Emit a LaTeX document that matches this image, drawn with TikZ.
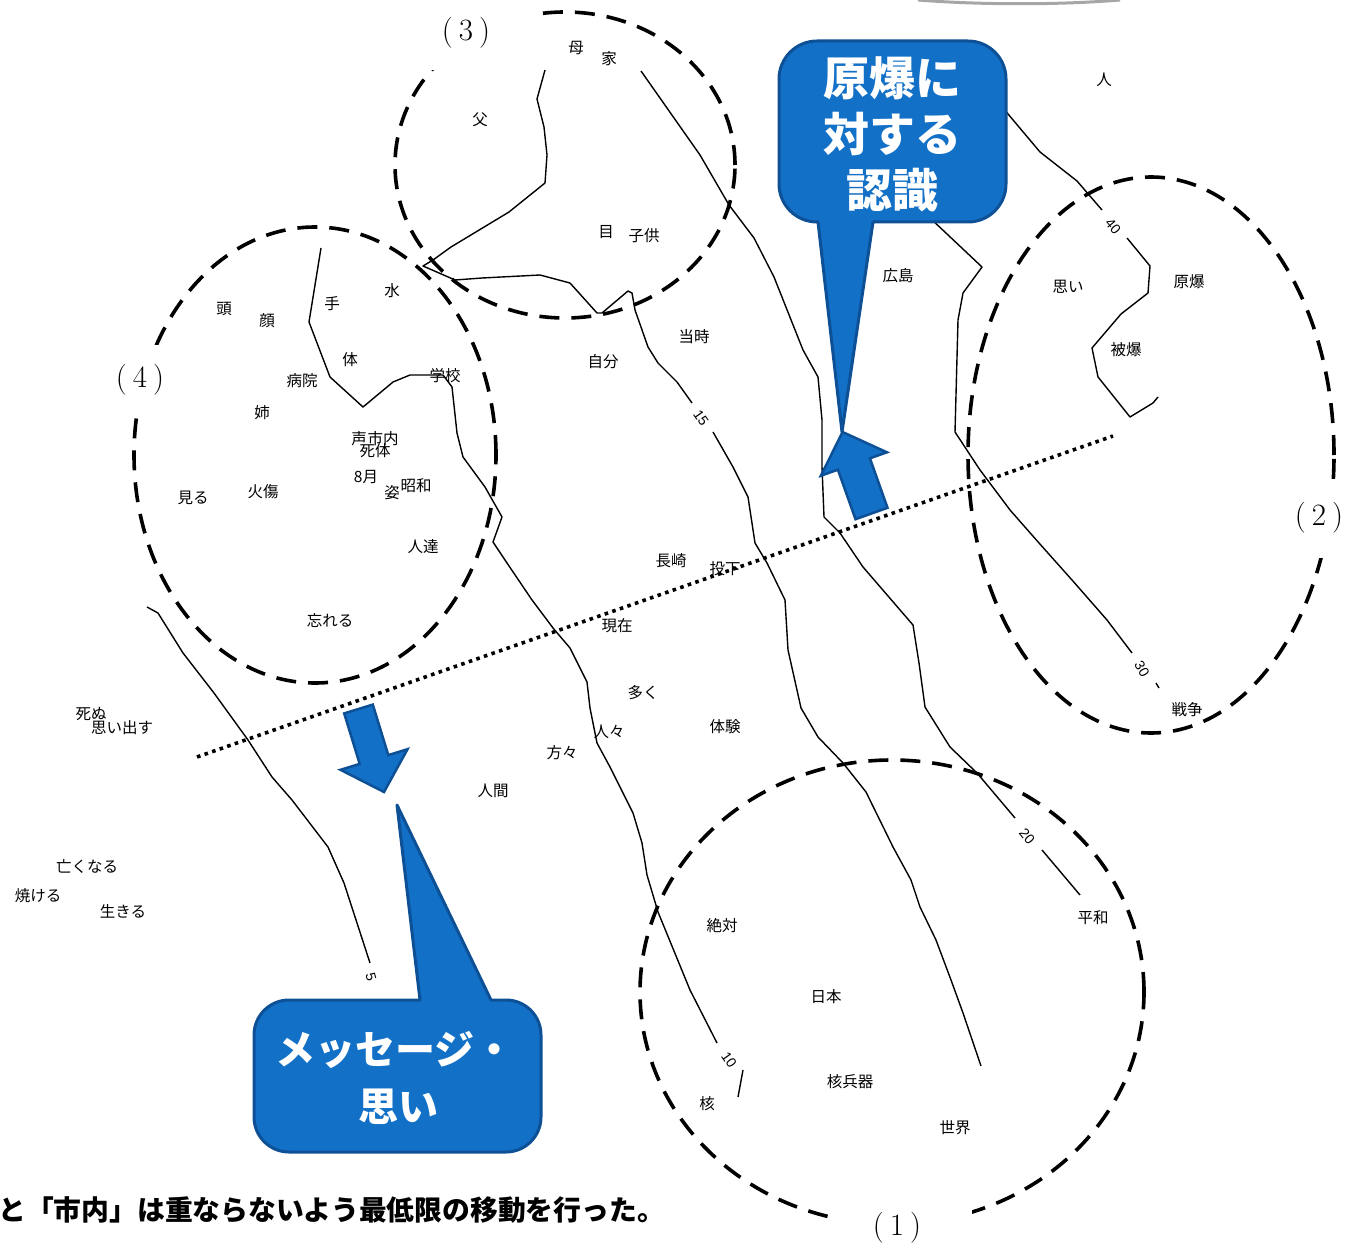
\documentclass[tikz,border=0pt]{standalone}
\usepackage{fontspec}
\newfontfamily\jp{Noto Sans CJK JP}
\newfontfamily\numf{Liberation Sans}
\definecolor{cblue}{RGB}{18,112,199}
\definecolor{cdark}{RGB}{14,80,150}
\begin{document}
\begin{tikzpicture}[x=1pt,y=-1pt,
  cline/.style={line width=1.4pt, line join=round},
  dashc/.style={line width=3.6pt, dash pattern=on 20pt off 12pt},
  dotl/.style={line width=3.6pt, dash pattern=on 3.6pt off 4.4pt},
  lbl/.style={font=\jp\fontsize{15.5}{17}\selectfont, inner sep=0pt},
  numl/.style={font=\numf\fontsize{14}{15}\selectfont, inner sep=0pt},
  plbl/.style={font=\fontsize{31}{33}\selectfont, inner sep=0pt},
  whitebox/.style={fill=white, draw=none},
  callout/.style={fill=cblue, draw=cdark, line width=3pt, line join=round},
  ctext/.style={font=\jp\bfseries\fontsize{46}{50}\selectfont, text=white, inner sep=0pt},
  ctextb/.style={font=\jp\bfseries\fontsize{40}{44}\selectfont, text=white, inner sep=0pt},
  btext/.style={font=\jp\bfseries\fontsize{27.8}{30}\selectfont, inner sep=0pt},
  barrow/.style={fill=cblue, draw=cdark, line width=2.5pt, line join=miter}]
\useasboundingbox (0,0) rectangle (1348,1246);
\fill[white] (0,0) rectangle (1348,1246);
% grey arc at top
\draw[black!35, line width=3pt] (918,0) .. controls (980,5) and (1060,5) .. (1120,0);
% contour lines
\draw[cline] (545,70) -- (537,99) -- (544,127) -- (547,155) -- (545,183) -- (509,212) -- (451,247) -- (433,260) -- (423,266) -- (455,280) -- (482,278) -- (540,275) -- (570,283) -- (597,313) -- (602,313) -- (628,291) -- (632,293) -- (635,310) -- (648,347) -- (658,363) -- (677,382) -- (692,403);
\draw[cline] (713,432) -- (733,467) -- (748,497) -- (755,543) -- (767,563) -- (785,600) -- (788,650) -- (801,708) -- (818,737) -- (843,763) -- (866,792) -- (893,847) -- (911,880) -- (920,907) -- (936,940) -- (951,980) -- (963,1013) -- (981,1066);
\node[numl, rotate=-55] (n15) at (701,418) {15};
\draw[cline] (641,71) -- (700,155) -- (729,205) -- (754,238) -- (774,277) -- (803,350) -- (818,377) -- (822,420) -- (822,467) -- (824,517) -- (840,533) -- (863,567) -- (913,625) -- (919,663) -- (925,707) -- (950,747) -- (977,773) -- (1015,818);
\draw[cline] (1042,850) -- (1080,895);
\node[numl, rotate=-50] (n20) at (1027,836) {20};
\draw[cline] (1000,104) -- (1008,114) -- (1040,152) -- (1077,181) -- (1102,210);
\draw[cline] (1127,238) -- (1150,266) -- (1148,293) -- (1121,314) -- (1092,348) -- (1098,377) -- (1130,417) -- (1153,403) -- (1158,397);
\node[numl, rotate=-50] (n40) at (1113,226) {40};
\draw[cline] (930,218) -- (982,267) -- (963,293) -- (958,320) -- (955,432) -- (980,470) -- (1010,510) -- (1039,543) -- (1072,580) -- (1107,620) -- (1132,653);
\draw[cline] (1156,683) -- (1159,688);
\node[numl, rotate=-60] (n30) at (1142,669) {30};
\draw[cline] (321,248) -- (309,322) -- (330,377) -- (363,407) -- (393,382) -- (410,375) -- (443,375) -- (452,387) -- (457,433) -- (463,457) -- (485,487) -- (502,517) -- (493,542) -- (507,563) -- (532,600) -- (553,628) -- (570,648) -- (587,682) -- (590,708) -- (597,743) -- (610,767) -- (633,813) -- (642,843) -- (647,875) -- (658,912) -- (690,990) -- (717,1043);
\draw[cline] (743,1070) -- (738,1097);
\node[numl, rotate=-55] (n10) at (729,1060) {10};
\draw[cline] (147,607) -- (158,613) -- (183,653) -- (214,693) -- (248,740) -- (272,777) -- (292,800) -- (328,847) -- (344,883) -- (370,963);
\node[numl, rotate=-75] (n5) at (371,977) {5};
% dotted line
\coordinate (d1) at (197,757);
\coordinate (d2) at (1113,436);
\draw[dotl] (d1) -- (d2);
% dashed circles
\draw[dashc] (892,992) ellipse [x radius=252pt, y radius=232pt];
\draw[dashc] (1151,455) ellipse [x radius=183pt, y radius=278pt];
\draw[dashc] (565,165) ellipse [x radius=170pt, y radius=153pt];
\draw[dashc] (315,455) ellipse [x radius=181pt, y radius=228pt];
% label boxes
\fill[whitebox] (830,1192) rectangle (972,1246);
\fill[whitebox] (1252,480) rectangle (1348,558);
\fill[whitebox] (397,0) rectangle (540,70);
\fill[whitebox] (72,345) rectangle (213,417);
\node[plbl] (p1) at (897,1228) {(\hspace{6pt}1\hspace{6pt})};
\node[plbl] (p2) at (1319,518) {(\hspace{6pt}2\hspace{6pt})};
\node[plbl] (p3) at (466,33) {(\hspace{6pt}3\hspace{6pt})};
\node[plbl] (p4) at (140,380) {(\hspace{6pt}4\hspace{6pt})};
% words
\node[lbl] (w1) at (1104,80) {人};
\node[lbl] (w2) at (576,48) {母};
\node[lbl] (w3) at (609,59) {家};
\node[lbl] (w4) at (480,120) {父};
\node[lbl] (w5) at (606,232) {目};
\node[lbl] (w6) at (644,236) {子供};
\node[lbl] (w7) at (898,276) {広島};
\node[lbl] (w8) at (1068,287) {思い};
\node[lbl] (w9) at (1189,282) {原爆};
\node[lbl] (w10) at (1126,350) {被爆};
\node[lbl] (w11) at (694,337) {当時};
\node[lbl] (w12) at (603,362) {自分};
\node[lbl] (w13) at (224,309) {頭};
\node[lbl] (w14) at (267,321) {顔};
\node[lbl] (w15) at (332,304) {手};
\node[lbl] (w16) at (392,291) {水};
\node[lbl] (w17) at (350,360) {体};
\node[lbl] (w18) at (302,381) {病院};
\node[lbl] (w19) at (445,376) {学校};
\node[lbl] (w20) at (262,413) {姉};
\node[lbl] (w21) at (359,439) {声};
\node[lbl] (w22) at (383,439) {市内};
\node[lbl] (w23) at (375,451) {死体};
\node[lbl] (w24) at (366,477) {8月};
\node[lbl] (w25) at (392,493) {姿};
\node[lbl] (w26) at (416,486) {昭和};
\node[lbl] (w27) at (193,498) {見る};
\node[lbl] (w28) at (263,492) {火傷};
\node[lbl] (w29) at (423,547) {人達};
\node[lbl] (w30) at (671,561) {長崎};
\node[lbl] (w31) at (725,569) {投下};
\node[lbl] (w32) at (617,626) {現在};
\node[lbl] (w33) at (330,620) {忘れる};
\node[lbl] (w34) at (643,693) {多く};
\node[lbl] (w35) at (91,714) {死ぬ};
\node[lbl] (w36) at (122,728) {思い出す};
\node[lbl] (w37) at (609,732) {人々};
\node[lbl] (w38) at (562,753) {方々};
\node[lbl] (w39) at (725,727) {体験};
\node[lbl] (w40) at (493,791) {人間};
\node[lbl] (w41) at (87,866) {亡くなる};
\node[lbl] (w42) at (38,896) {焼ける};
\node[lbl] (w43) at (123,911) {生きる};
\node[lbl] (w44) at (722,926) {絶対};
\node[lbl] (w45) at (1093,918) {平和};
\node[lbl] (w46) at (826,997) {日本};
\node[lbl] (w47) at (850,1082) {核兵器};
\node[lbl] (w48) at (707,1104) {核};
\node[lbl] (w49) at (955,1128) {世界};
\node[lbl] (w50) at (1187,710) {戦争};
% block arrows
\draw[barrow] (887.5,507.8) -- (869.9,458.3) -- (886.9,452.3) -- (842.5,432) -- (820.9,475.7) -- (837.9,469.7) -- (855.5,519.2) -- cycle;
\draw[barrow] (372.8,704.6) -- (388.3,755.1) -- (407.5,749.2) -- (384,792) -- (340.5,769.8) -- (359.7,763.9) -- (344.2,713.4) -- cycle;
% callouts
\draw[callout] (873,222) [rounded corners=38pt] -- (1006,222) -- (1006,41) -- (779,41) -- (779,222) [sharp corners] -- (818,222) -- (842,432) -- cycle;
\node[ctext] (c1a) at (892,78) {原爆に};
\node[ctext] (c1b) at (892,134) {対する};
\node[ctext] (c1c) at (892,190) {認識};
\draw[callout] (420,1000) [rounded corners=35pt] -- (254,1000) -- (254,1152) -- (541,1152) -- (541,1000) [sharp corners] -- (491,1000) -- (397,805) -- cycle;
\node[ctextb] (c2a) at (395,1050) {メッセージ・};
\node[ctextb] (c2b) at (398,1107) {思い};
% bottom text
\node[btext, anchor=west] (bt) at (-2,1210) {と「市内」は重ならないよう最低限の移動を行った。};
\end{tikzpicture}
\end{document}
